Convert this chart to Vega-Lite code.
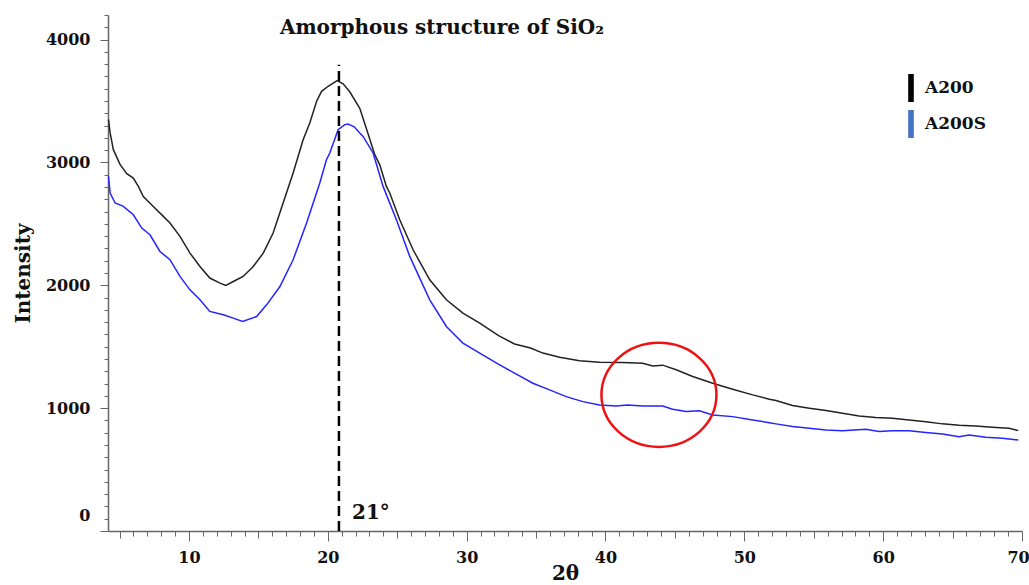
{
  "$schema": "https://vega.github.io/schema/vega-lite/v6.json",
  "width": 914,
  "height": 516,
  "autosize": {"type": "none"},
  "padding": {"left": 108, "top": 15, "right": 7, "bottom": 54},
  "background": "white",
  "config": {
    "view": {"stroke": null},
    "font": "DejaVu Serif"
  },
  "datasets": {
    "curves": [
      {"s": "A200", "x": 4.2, "y": 3348}, {"s": "A200", "x": 4.32, "y": 3240}, {"s": "A200", "x": 4.55, "y": 3104},
      {"s": "A200", "x": 5.04, "y": 2982}, {"s": "A200", "x": 5.52, "y": 2908}, {"s": "A200", "x": 5.99, "y": 2873},
      {"s": "A200", "x": 6.35, "y": 2805}, {"s": "A200", "x": 6.71, "y": 2723}, {"s": "A200", "x": 7.43, "y": 2642},
      {"s": "A200", "x": 8.15, "y": 2561}, {"s": "A200", "x": 8.63, "y": 2507}, {"s": "A200", "x": 9.35, "y": 2398},
      {"s": "A200", "x": 10.07, "y": 2262}, {"s": "A200", "x": 10.79, "y": 2153}, {"s": "A200", "x": 11.5, "y": 2059},
      {"s": "A200", "x": 12.23, "y": 2018}, {"s": "A200", "x": 12.66, "y": 1999}, {"s": "A200", "x": 13.19, "y": 2031},
      {"s": "A200", "x": 13.9, "y": 2072}, {"s": "A200", "x": 14.63, "y": 2153}, {"s": "A200", "x": 15.35, "y": 2262},
      {"s": "A200", "x": 16.06, "y": 2425}, {"s": "A200", "x": 16.78, "y": 2670}, {"s": "A200", "x": 17.5, "y": 2914},
      {"s": "A200", "x": 18.22, "y": 3185}, {"s": "A200", "x": 18.7, "y": 3321}, {"s": "A200", "x": 19.2, "y": 3500},
      {"s": "A200", "x": 19.55, "y": 3579}, {"s": "A200", "x": 20.02, "y": 3620}, {"s": "A200", "x": 20.67, "y": 3666},
      {"s": "A200", "x": 21.1, "y": 3640}, {"s": "A200", "x": 21.58, "y": 3575}, {"s": "A200", "x": 22.3, "y": 3440},
      {"s": "A200", "x": 23.02, "y": 3190}, {"s": "A200", "x": 23.38, "y": 3063}, {"s": "A200", "x": 23.74, "y": 2980},
      {"s": "A200", "x": 24.22, "y": 2805}, {"s": "A200", "x": 24.46, "y": 2751}, {"s": "A200", "x": 25.18, "y": 2534},
      {"s": "A200", "x": 26.14, "y": 2289}, {"s": "A200", "x": 27.34, "y": 2045}, {"s": "A200", "x": 28.54, "y": 1882},
      {"s": "A200", "x": 29.73, "y": 1773}, {"s": "A200", "x": 30.94, "y": 1692}, {"s": "A200", "x": 32.3, "y": 1590},
      {"s": "A200", "x": 33.45, "y": 1522}, {"s": "A200", "x": 34.6, "y": 1490}, {"s": "A200", "x": 35.49, "y": 1448},
      {"s": "A200", "x": 36.69, "y": 1415}, {"s": "A200", "x": 38.13, "y": 1385}, {"s": "A200", "x": 39.57, "y": 1374},
      {"s": "A200", "x": 41.24, "y": 1371}, {"s": "A200", "x": 42.68, "y": 1366}, {"s": "A200", "x": 43.4, "y": 1344},
      {"s": "A200", "x": 44.12, "y": 1350}, {"s": "A200", "x": 45.09, "y": 1312}, {"s": "A200", "x": 46.28, "y": 1257},
      {"s": "A200", "x": 47.72, "y": 1203}, {"s": "A200", "x": 49.16, "y": 1154}, {"s": "A200", "x": 50.6, "y": 1108},
      {"s": "A200", "x": 51.8, "y": 1073}, {"s": "A200", "x": 52.28, "y": 1062}, {"s": "A200", "x": 53.47, "y": 1021},
      {"s": "A200", "x": 54.68, "y": 1000}, {"s": "A200", "x": 55.88, "y": 980}, {"s": "A200", "x": 57.07, "y": 959},
      {"s": "A200", "x": 58.27, "y": 937}, {"s": "A200", "x": 59.47, "y": 923}, {"s": "A200", "x": 60.67, "y": 918},
      {"s": "A200", "x": 61.87, "y": 904}, {"s": "A200", "x": 63.07, "y": 890}, {"s": "A200", "x": 64.27, "y": 872},
      {"s": "A200", "x": 65.47, "y": 861}, {"s": "A200", "x": 66.67, "y": 855}, {"s": "A200", "x": 67.86, "y": 845},
      {"s": "A200", "x": 69.06, "y": 837}, {"s": "A200", "x": 69.73, "y": 817},
      {"s": "A200S", "x": 4.2, "y": 2886}, {"s": "A200S", "x": 4.32, "y": 2751}, {"s": "A200S", "x": 4.68, "y": 2670},
      {"s": "A200S", "x": 5.27, "y": 2642}, {"s": "A200S", "x": 5.99, "y": 2574}, {"s": "A200S", "x": 6.6, "y": 2466},
      {"s": "A200S", "x": 7.19, "y": 2411}, {"s": "A200S", "x": 7.91, "y": 2275}, {"s": "A200S", "x": 8.63, "y": 2208},
      {"s": "A200S", "x": 9.35, "y": 2072}, {"s": "A200S", "x": 10.07, "y": 1963}, {"s": "A200S", "x": 10.79, "y": 1882},
      {"s": "A200S", "x": 11.5, "y": 1787}, {"s": "A200S", "x": 12.47, "y": 1760}, {"s": "A200S", "x": 13.19, "y": 1733},
      {"s": "A200S", "x": 13.86, "y": 1705}, {"s": "A200S", "x": 14.87, "y": 1746}, {"s": "A200S", "x": 15.59, "y": 1841},
      {"s": "A200S", "x": 16.55, "y": 1990}, {"s": "A200S", "x": 17.5, "y": 2208}, {"s": "A200S", "x": 18.47, "y": 2507},
      {"s": "A200S", "x": 19.42, "y": 2833}, {"s": "A200S", "x": 19.9, "y": 3022}, {"s": "A200S", "x": 20.14, "y": 3077},
      {"s": "A200S", "x": 20.74, "y": 3267}, {"s": "A200S", "x": 21.22, "y": 3308}, {"s": "A200S", "x": 21.46, "y": 3313},
      {"s": "A200S", "x": 21.9, "y": 3290}, {"s": "A200S", "x": 22.3, "y": 3240}, {"s": "A200S", "x": 22.54, "y": 3212},
      {"s": "A200S", "x": 23.26, "y": 3077}, {"s": "A200S", "x": 23.98, "y": 2805}, {"s": "A200S", "x": 24.94, "y": 2534},
      {"s": "A200S", "x": 25.9, "y": 2235}, {"s": "A200S", "x": 27.34, "y": 1882}, {"s": "A200S", "x": 28.54, "y": 1665},
      {"s": "A200S", "x": 29.73, "y": 1529}, {"s": "A200S", "x": 30.94, "y": 1448}, {"s": "A200S", "x": 32.25, "y": 1360},
      {"s": "A200S", "x": 33.45, "y": 1285}, {"s": "A200S", "x": 34.77, "y": 1203}, {"s": "A200S", "x": 35.97, "y": 1149},
      {"s": "A200S", "x": 37.17, "y": 1094}, {"s": "A200S", "x": 38.37, "y": 1053}, {"s": "A200S", "x": 39.57, "y": 1026},
      {"s": "A200S", "x": 40.77, "y": 1018}, {"s": "A200S", "x": 41.6, "y": 1026}, {"s": "A200S", "x": 42.68, "y": 1018},
      {"s": "A200S", "x": 44.12, "y": 1018}, {"s": "A200S", "x": 44.84, "y": 991}, {"s": "A200S", "x": 45.81, "y": 972},
      {"s": "A200S", "x": 46.76, "y": 978}, {"s": "A200S", "x": 47.72, "y": 945}, {"s": "A200S", "x": 49.16, "y": 931},
      {"s": "A200S", "x": 50.6, "y": 904}, {"s": "A200S", "x": 51.8, "y": 882}, {"s": "A200S", "x": 52.28, "y": 872},
      {"s": "A200S", "x": 53.47, "y": 850}, {"s": "A200S", "x": 54.68, "y": 837}, {"s": "A200S", "x": 55.88, "y": 823},
      {"s": "A200S", "x": 57.07, "y": 817}, {"s": "A200S", "x": 58.75, "y": 828}, {"s": "A200S", "x": 59.71, "y": 809},
      {"s": "A200S", "x": 60.67, "y": 815}, {"s": "A200S", "x": 61.87, "y": 815}, {"s": "A200S", "x": 63.07, "y": 801},
      {"s": "A200S", "x": 64.27, "y": 790}, {"s": "A200S", "x": 65.47, "y": 768}, {"s": "A200S", "x": 66.19, "y": 782},
      {"s": "A200S", "x": 67.39, "y": 763}, {"s": "A200S", "x": 68.58, "y": 755}, {"s": "A200S", "x": 69.73, "y": 741}
    ]
  },
  "layer": [
    {
      "data": {"name": "curves"},
      "mark": {"type": "line", "strokeWidth": 1.5, "interpolate": "linear"},
      "encoding": {
        "x": {
          "field": "x", "type": "quantitative",
          "scale": {"domain": [4.166, 70], "nice": false, "zero": false},
          "axis": {
            "values": [5,6,7,8,9,10,11,12,13,14,15,16,17,18,19,20,21,22,23,24,25,26,27,28,29,30,31,32,33,34,35,36,37,38,39,40,41,42,43,44,45,46,47,48,49,50,51,52,53,54,55,56,57,58,59,60,61,62,63,64,65,66,67,68,69,70],
            "tickCount": 200,
            "format": "d",
            "labelOverlap": false,
            "labelFlush": false,
            "labelExpr": "datum.value % 10 === 0 ? datum.label : ''",
            "labelOffset": {"condition": {"test": "datum.value === 70", "value": -4}, "value": 0},
            "grid": false,
            "domainColor": "#666666", "domainWidth": 1.5,
            "tickColor": "#666666", "tickWidth": 1,
            "tickSize": {"condition": [{"test": "datum.value % 10 === 0", "value": 10}, {"test": "datum.value % 5 === 0", "value": 7}], "value": 5},
            "labelFont": "DejaVu Serif", "labelFontWeight": "bold", "labelFontSize": 16, "labelColor": "#111111",
            "labelPadding": 8,
            "title": "2θ", "titleFont": "DejaVu Serif", "titleFontWeight": "bold", "titleFontSize": 20, "titleColor": "#111111",
            "titleY": 32, "titleBaseline": "top"
          }
        },
        "y": {
          "field": "y", "type": "quantitative",
          "scale": {"domain": [0, 4200], "nice": false},
          "axis": {
            "values": [0,100,200,300,400,500,600,700,800,900,1000,1100,1200,1300,1400,1500,1600,1700,1800,1900,2000,2100,2200,2300,2400,2500,2600,2700,2800,2900,3000,3100,3200,3300,3400,3500,3600,3700,3800,3900,4000,4100,4200],
            "tickCount": 200,
            "labelOverlap": false,
            "labelFlush": false,
            "format": "d",
            "labelExpr": "datum.value % 1000 === 0 ? datum.label : ''",
            "grid": false,
            "domainColor": "#666666", "domainWidth": 1.5,
            "tickColor": "#666666", "tickWidth": 1,
            "tickSize": {"condition": {"test": "datum.value % 1000 === 0", "value": 8}, "value": 4},
            "labelOffset": {"condition": {"test": "datum.value === 0", "value": -16}, "value": 0},
            "labelFont": "DejaVu Serif", "labelFontWeight": "bold", "labelFontSize": 16, "labelColor": "#111111",
            "labelPadding": 10,
            "title": "Intensity", "titleFont": "DejaVu Serif", "titleFontWeight": "bold", "titleFontSize": 20, "titleColor": "#111111",
            "titlePadding": 12
          }
        },
        "color": {
          "field": "s", "type": "nominal",
          "scale": {"domain": ["A200", "A200S"], "range": ["#222222", "#2424ff"]},
          "legend": {
            "title": null,
            "orient": "none",
            "legendX": 789,
            "legendY": 59,
            "padding": 0,
            "symbolType": "M-0.2,-1L0.2,-1L0.2,1L-0.2,1Z",
            "symbolSize": 784,
            "symbolStrokeWidth": 0,
            "rowPadding": 8,
            "labelOffset": 0,
            "labelFont": "DejaVu Serif", "labelFontWeight": "bold", "labelFontSize": 17, "labelColor": "#111111",
            "encode": {
              "symbols": {
                "update": {
                  "fill": {"signal": "datum.value === 'A200' ? '#000000' : '#4472c4'"},
                  "fillOpacity": {"value": 1},
                  "strokeWidth": {"value": 0}
                }
              }
            }
          }
        }
      }
    },
    {
      "data": {"values": [{"x": 20.8, "y": 0, "y2": 3796}]},
      "mark": {"type": "rule", "color": "#000000", "strokeWidth": 2.5, "strokeDash": [10, 5]},
      "encoding": {
        "x": {"field": "x", "type": "quantitative"},
        "y": {"field": "y", "type": "quantitative"},
        "y2": {"field": "y2"}
      }
    },
    {
      "data": {"values": [{"x": 43.85, "y": 1108}]},
      "mark": {"type": "point", "shape": "M-1,0A1,0.905,0,1,0,1,0A1,0.905,0,1,0,-1,0Z", "filled": false, "stroke": "#ee1111", "strokeWidth": 2.5, "size": 13225, "opacity": 1},
      "encoding": {
        "x": {"field": "x", "type": "quantitative"},
        "y": {"field": "y", "type": "quantitative"}
      }
    },
    {
      "data": {"values": [{"x": 28.22, "y": 4098, "t": "Amorphous structure of SiO₂"}]},
      "mark": {"type": "text", "font": "DejaVu Serif", "fontWeight": "bold", "fontSize": 20, "align": "center", "baseline": "middle", "color": "#111111"},
      "encoding": {
        "x": {"field": "x", "type": "quantitative"},
        "y": {"field": "y", "type": "quantitative"},
        "text": {"field": "t"}
      }
    },
    {
      "data": {"values": [{"x": 21.74, "y": 147, "t": "21°"}]},
      "mark": {"type": "text", "font": "DejaVu Serif", "fontWeight": "bold", "fontSize": 20, "align": "left", "baseline": "middle", "color": "#111111"},
      "encoding": {
        "x": {"field": "x", "type": "quantitative"},
        "y": {"field": "y", "type": "quantitative"},
        "text": {"field": "t"}
      }
    }
  ]
}
